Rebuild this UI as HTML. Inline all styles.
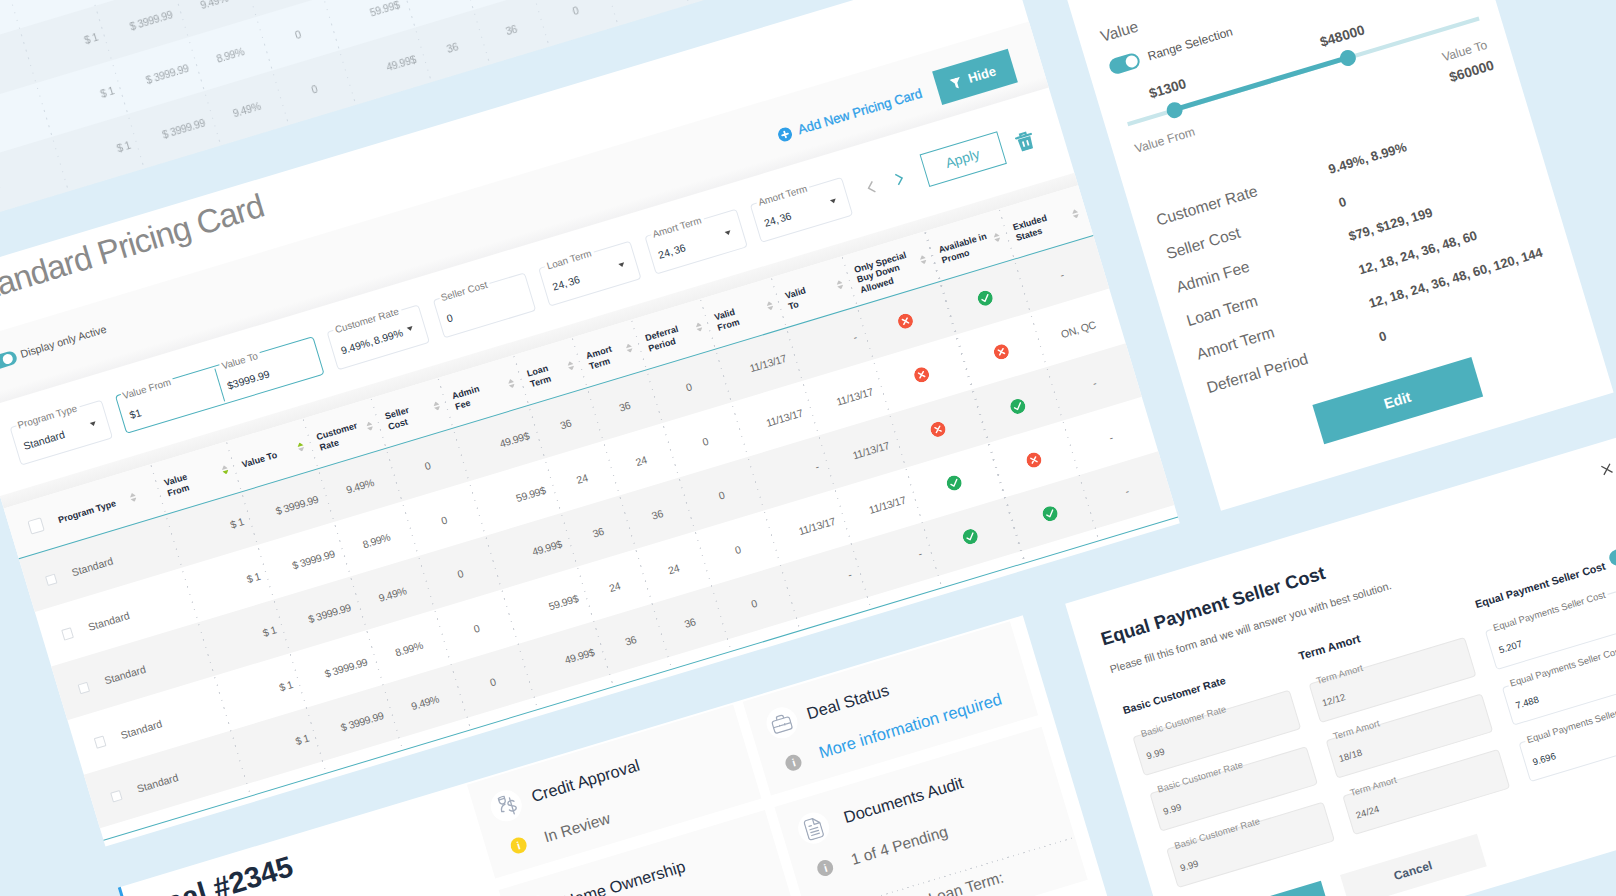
<!DOCTYPE html>
<html lang="en"><head><meta charset="utf-8"><title>Pricing Card</title>
<style>
*{box-sizing:border-box;margin:0;padding:0}
html,body{width:1616px;height:896px;overflow:hidden;background:#ddeef8}
body{position:relative;font-family:"Liberation Sans",sans-serif;color:#666}
#stage{position:absolute;left:0;top:0;width:0;height:0;transform-origin:0 0;transform:rotate(-16.75deg)}
.abs{position:absolute}
.card{position:absolute;background:#fff}
.t{position:absolute;white-space:nowrap;line-height:1}
.fld{position:absolute;height:40.2px;width:96px;border:1px solid #e2e7ee;border-radius:4px;background:#fff}
.fld .lb{position:absolute;left:6px;top:-6px;font-size:9.8px;line-height:11px;color:#7d7d7d;background:#fff;padding:0 3px 0 2px;white-space:nowrap}
.fld .vl{position:absolute;left:7.5px;top:14.8px;font-size:10.5px;line-height:12px;color:#2a3747;white-space:nowrap;word-spacing:-1.2px}
.fld .ar{position:absolute;right:11px;top:18.6px;width:0;height:0;border-left:3.8px solid transparent;border-right:3.8px solid transparent;border-top:4.8px solid #4a4a4a}
.th{position:absolute;font-weight:bold;font-size:9px;line-height:10.5px;color:#1d2c40;display:flex;align-items:center;white-space:nowrap}
.sep{position:absolute;top:8px;width:1.2px;background:repeating-linear-gradient(to bottom,#c6cad1 0,#c6cad1 1.4px,transparent 1.4px,transparent 7.9px)}
.row{position:absolute;left:0;width:1122.4px;height:56.45px}
.row.g{background:#f4f4f4}
.c{position:absolute;top:1.3px;height:56.45px;line-height:56.45px;font-size:10.5px;color:#6a6a6a;white-space:nowrap}
.c.n{letter-spacing:-.3px}
.cb{position:absolute;width:10.5px;height:10.5px;border:1px solid #d9dde2;background:#fff;border-radius:1px}
.ic{position:absolute;width:15px;height:15px;border-radius:50%}
.sort{position:absolute;width:6.4px;height:9.6px}
.pan{position:absolute;background:#fafafa}
.ef{position:absolute;width:163.5px;height:40.5px;border:1px solid #e6e6e6;border-radius:4px;background:#f4f4f4}
.ef.w{background:#fff;border-color:#e3e8ee}
.ef .lb{position:absolute;left:6px;top:-6.5px;font-size:9.4px;line-height:10px;color:#8f8f8f;white-space:nowrap;padding:0 2px}
.ef.w .lb{background:#fff;color:#777}
.ef .vl{position:absolute;left:7px;top:15.5px;font-size:9.5px;line-height:11px;color:#666;white-space:nowrap}
.ef.w .vl{color:#2a3747}
</style></head>
<body>
<div id="stage">
<div class="abs" style="left:-143.1px;top:-79.45px;width:1122.4px;height:282.25px;opacity:.55;background:#fff">
<div class="row g" style="top:0.0px"><div class="cb" style="left:19.6px;top:25px"></div><div class="c" style="left:47px">Standard</div><div class="c n" style="right:896.3px">$ 1</div><div class="c n" style="right:818.5px">$ 3999.99</div><div class="c n" style="left:311.9px;width:71.5px;text-align:center">9.49%</div><div class="c n" style="left:383.4px;width:70.0px;text-align:center">0</div><div class="c n" style="right:598.3px">49.99$</div><div class="c n" style="left:531.7px;width:61.6px;text-align:center">36</div><div class="c n" style="left:593.3px;width:61.8px;text-align:center">36</div><div class="c n" style="left:655.1px;width:72.2px;text-align:center">0</div><div class="c n" style="right:329.8px">11/13/17</div><div class="c n" style="right:256.3px">-</div><svg class="ic" style="left:910.4px;top:20.7px" viewBox="0 0 15 15"><circle cx="7.5" cy="7.5" r="7.5" fill="#f4563d"/><path d="M5 5l5 5M10 5l-5 5" stroke="#fff" stroke-width="1.5" stroke-linecap="round"/></svg><svg class="ic" style="left:992.8px;top:21.7px" viewBox="0 0 15 15"><circle cx="7.5" cy="7.5" r="7.5" fill="#25ad5f"/><path d="M4 7.900l2.400 2.500 4.600-5.600" stroke="#fff" stroke-width="1.4" fill="none" stroke-linecap="round" stroke-linejoin="round"/></svg><div class="c n" style="left:1039.0px;width:83.4px;text-align:center">-</div></div>
<div class="row" style="top:56.45px"><div class="cb" style="left:19.6px;top:25px"></div><div class="c" style="left:47px">Standard</div><div class="c n" style="right:896.3px">$ 1</div><div class="c n" style="right:818.5px">$ 3999.99</div><div class="c n" style="left:311.9px;width:71.5px;text-align:center">8.99%</div><div class="c n" style="left:383.4px;width:70.0px;text-align:center">0</div><div class="c n" style="right:598.3px">59.99$</div><div class="c n" style="left:531.7px;width:61.6px;text-align:center">24</div><div class="c n" style="left:593.3px;width:61.8px;text-align:center">24</div><div class="c n" style="left:655.1px;width:72.2px;text-align:center">0</div><div class="c n" style="right:329.8px">11/13/17</div><div class="c n" style="right:256.3px">11/13/17</div><svg class="ic" style="left:910.4px;top:20.7px" viewBox="0 0 15 15"><circle cx="7.5" cy="7.5" r="7.5" fill="#f4563d"/><path d="M5 5l5 5M10 5l-5 5" stroke="#fff" stroke-width="1.5" stroke-linecap="round"/></svg><svg class="ic" style="left:992.8px;top:21.7px" viewBox="0 0 15 15"><circle cx="7.5" cy="7.5" r="7.5" fill="#f4563d"/><path d="M5 5l5 5M10 5l-5 5" stroke="#fff" stroke-width="1.5" stroke-linecap="round"/></svg><div class="c n" style="left:1039.0px;width:83.4px;text-align:center">ON, QC</div></div>
<div class="row g" style="top:112.9px"><div class="cb" style="left:19.6px;top:25px"></div><div class="c" style="left:47px">Standard</div><div class="c n" style="right:896.3px">$ 1</div><div class="c n" style="right:818.5px">$ 3999.99</div><div class="c n" style="left:311.9px;width:71.5px;text-align:center">9.49%</div><div class="c n" style="left:383.4px;width:70.0px;text-align:center">0</div><div class="c n" style="right:598.3px">49.99$</div><div class="c n" style="left:531.7px;width:61.6px;text-align:center">36</div><div class="c n" style="left:593.3px;width:61.8px;text-align:center">36</div><div class="c n" style="left:655.1px;width:72.2px;text-align:center">0</div><div class="c n" style="right:329.8px">11/13/17</div><div class="c n" style="right:256.3px">-</div><svg class="ic" style="left:910.4px;top:20.7px" viewBox="0 0 15 15"><circle cx="7.5" cy="7.5" r="7.5" fill="#f4563d"/><path d="M5 5l5 5M10 5l-5 5" stroke="#fff" stroke-width="1.5" stroke-linecap="round"/></svg><svg class="ic" style="left:992.8px;top:21.7px" viewBox="0 0 15 15"><circle cx="7.5" cy="7.5" r="7.5" fill="#25ad5f"/><path d="M4 7.900l2.400 2.500 4.600-5.600" stroke="#fff" stroke-width="1.4" fill="none" stroke-linecap="round" stroke-linejoin="round"/></svg><div class="c n" style="left:1039.0px;width:83.4px;text-align:center">-</div></div>
<div class="row" style="top:169.35px"><div class="cb" style="left:19.6px;top:25px"></div><div class="c" style="left:47px">Standard</div><div class="c n" style="right:896.3px">$ 1</div><div class="c n" style="right:818.5px">$ 3999.99</div><div class="c n" style="left:311.9px;width:71.5px;text-align:center">8.99%</div><div class="c n" style="left:383.4px;width:70.0px;text-align:center">0</div><div class="c n" style="right:598.3px">59.99$</div><div class="c n" style="left:531.7px;width:61.6px;text-align:center">24</div><div class="c n" style="left:593.3px;width:61.8px;text-align:center">24</div><div class="c n" style="left:655.1px;width:72.2px;text-align:center">0</div><div class="c n" style="right:329.8px">11/13/17</div><div class="c n" style="right:256.3px">11/13/17</div><svg class="ic" style="left:910.4px;top:20.7px" viewBox="0 0 15 15"><circle cx="7.5" cy="7.5" r="7.5" fill="#f4563d"/><path d="M5 5l5 5M10 5l-5 5" stroke="#fff" stroke-width="1.5" stroke-linecap="round"/></svg><svg class="ic" style="left:992.8px;top:21.7px" viewBox="0 0 15 15"><circle cx="7.5" cy="7.5" r="7.5" fill="#f4563d"/><path d="M5 5l5 5M10 5l-5 5" stroke="#fff" stroke-width="1.5" stroke-linecap="round"/></svg><div class="c n" style="left:1039.0px;width:83.4px;text-align:center">ON, QC</div></div>
<div class="row g" style="top:225.8px"><div class="cb" style="left:19.6px;top:25px"></div><div class="c" style="left:47px">Standard</div><div class="c n" style="right:896.3px">$ 1</div><div class="c n" style="right:818.5px">$ 3999.99</div><div class="c n" style="left:311.9px;width:71.5px;text-align:center">9.49%</div><div class="c n" style="left:383.4px;width:70.0px;text-align:center">0</div><div class="c n" style="right:598.3px">49.99$</div><div class="c n" style="left:531.7px;width:61.6px;text-align:center">36</div><div class="c n" style="left:593.3px;width:61.8px;text-align:center">36</div><div class="c n" style="left:655.1px;width:72.2px;text-align:center">0</div><div class="c n" style="right:329.8px">11/13/17</div><div class="c n" style="right:256.3px">-</div><svg class="ic" style="left:910.4px;top:20.7px" viewBox="0 0 15 15"><circle cx="7.5" cy="7.5" r="7.5" fill="#f4563d"/><path d="M5 5l5 5M10 5l-5 5" stroke="#fff" stroke-width="1.5" stroke-linecap="round"/></svg><svg class="ic" style="left:992.8px;top:21.7px" viewBox="0 0 15 15"><circle cx="7.5" cy="7.5" r="7.5" fill="#25ad5f"/><path d="M4 7.900l2.400 2.500 4.600-5.600" stroke="#fff" stroke-width="1.4" fill="none" stroke-linecap="round" stroke-linejoin="round"/></svg><div class="c n" style="left:1039.0px;width:83.4px;text-align:center">-</div></div>
<div class="sep" style="left:152.8px;top:0px;height:282.25px"></div><div class="sep" style="left:232.4px;top:0px;height:282.25px"></div><div class="sep" style="left:311.9px;top:0px;height:282.25px"></div><div class="sep" style="left:383.4px;top:0px;height:282.25px"></div><div class="sep" style="left:453.4px;top:0px;height:282.25px"></div><div class="sep" style="left:531.7px;top:0px;height:282.25px"></div><div class="sep" style="left:593.3px;top:0px;height:282.25px"></div><div class="sep" style="left:655.1px;top:0px;height:282.25px"></div><div class="sep" style="left:727.3px;top:0px;height:282.25px"></div><div class="sep" style="left:801.3px;top:0px;height:282.25px"></div><div class="sep" style="left:874.8px;top:0px;height:282.25px"></div><div class="sep" style="left:961.5px;top:0px;height:282.25px"></div><div class="sep" style="left:1039.0px;top:0px;height:282.25px"></div>
</div>
<div class="card" style="left:-143.1px;top:246.2px;width:1122.4px;height:594.4px">
<div class="t" style="left:28.6px;top:9.3px;font-size:33px;color:#8a8a8a;letter-spacing:-.85px">Standard Pricing Card</div>
<div class="abs" style="left:0;top:71.30000000000001px;width:1122.4px;height:68.5px;background:linear-gradient(#fafafa 0,#fafafa 83%,#f2f2f3 100%)"></div>
<div class="abs" style="left:28.6px;top:92.8px;width:27px;height:14px;border-radius:7px;background:#4cb0bd"></div>
<div class="abs" style="left:42.1px;top:94.8px;width:10px;height:10px;border-radius:5px;background:#fff"></div>
<div class="t" style="left:60.8px;top:94.3px;font-size:10.7px;color:#555">Display only Active</div>
<svg class="abs" style="left:848.7px;top:101.8px;width:14px;height:14px" viewBox="0 0 14 14"><circle cx="7" cy="7" r="7" fill="#2f9fe8"/><path d="M7 4v6M4 7h6" stroke="#fff" stroke-width="1.8" stroke-linecap="round"/></svg>
<div class="t" style="left:870.1px;top:102.3px;font-size:13.1px;color:#2f9fe8;-webkit-text-stroke:.3px #2f9fe8">Add New Pricing Card</div>
<div class="abs" style="left:1014.8px;top:91.3px;width:79.3px;height:34.5px;background:#4cb0bd"></div>
<svg class="abs" style="left:1029.1px;top:103.8px;width:11px;height:11px" viewBox="0 0 11 11"><path d="M0 0h11L6.8 5.2V11L4.2 9V5.2z" fill="#fff"/></svg>
<div class="t" style="left:1047.9px;top:102.1px;font-size:13px;color:#fff;font-weight:bold">Hide</div>
<div class="fld" style="left:28.6px;top:165.6px;width:96px"><span class="lb">Program Type</span><span class="vl">Standard</span><i class="ar"></i></div>
<div class="fld" style="left:139.1px;top:165.6px;width:206.5px;border-color:#4cb0bd"><span class="lb" style="top:-3.5px;left:4.5px">Value From</span><span class="vl" style="top:16.5px;left:7.5px">$1</span><i class="abs" style="left:101.5px;top:2px;width:1px;height:34px;background:#4cb0bd"></i><span class="lb" style="left:108px;top:-3.5px">Value To</span><span class="vl" style="left:109.5px;top:16px">$3999.99</span></div>
<div class="fld" style="left:360.1px;top:165.6px;width:96px"><span class="lb">Customer Rate</span><span class="vl">9.49%, 8.99%</span><i class="ar"></i></div>
<div class="fld" style="left:470.6px;top:165.6px;width:96px"><span class="lb">Seller Cost</span><span class="vl">0</span></div>
<div class="fld" style="left:581.1px;top:165.6px;width:96px"><span class="lb">Loan Term</span><span class="vl">24, 36</span><i class="ar"></i></div>
<div class="fld" style="left:691.6px;top:165.6px;width:96px"><span class="lb">Amort Term</span><span class="vl">24, 36</span><i class="ar"></i></div>
<div class="fld" style="left:802.1px;top:165.6px;width:96px"><span class="lb">Amort Term</span><span class="vl">24, 36</span><i class="ar"></i></div>
<svg class="abs" style="left:919.1px;top:177.8px;width:8px;height:13px" viewBox="0 0 8 13"><path d="M7 1L1.5 6.5 7 12" stroke="#b5b5b5" stroke-width="1.5" fill="none"/></svg>
<svg class="abs" style="left:949.1px;top:177.8px;width:8px;height:13px" viewBox="0 0 8 13"><path d="M1 1l5.5 5.5L1 12" stroke="#4cb0bd" stroke-width="1.5" fill="none"/></svg>
<div class="abs" style="left:978.6px;top:167.2px;width:81px;height:33.6px;border:1px solid #4cb0bd;color:#4cb0bd;font-size:14px;text-align:center;line-height:31px">Apply</div>
<svg class="abs" style="left:1075.1px;top:175.1px;width:17.6px;height:18.7px" viewBox="0 0 16 17"><path d="M1 4h14M5.5 3.5v-2h5v2" stroke="#4cb0bd" stroke-width="2" fill="none" stroke-linecap="round"/><path d="M2 5.5h12l-.8 11.5H2.8z" fill="#4cb0bd"/><path d="M6 8.5v5M10 8.5v5" stroke="#fff" stroke-width="1.6"/></svg>
<div class="abs" style="left:0;top:229.0px;width:1122.4px;height:12.5px;background:linear-gradient(#f7f7f7,#f1f1f1)"></div>
<div class="abs" style="left:0;top:241.5px;width:1122.4px;height:52.5px;background:#fafafa">
<div class="cb" style="left:19px;top:19.8px;width:14px;height:14px;border-radius:2px"></div>
<div class="th" style="left:49px;top:1.8px;height:52.5px">Program Type</div>
<svg class="sort" style="left:123.9px;top:22.2px" viewBox="0 0 7 11"><path d="M3.5 0L7 4.5H0z" fill="#c4c4c4"/><path d="M0 6.5H7L3.5 11z" fill="#c4c4c4"/></svg>
<div class="th" style="left:161.3px;top:1.8px;height:52.5px">Value<br>From</div>
<svg class="sort" style="left:219.8px;top:22.2px" viewBox="0 0 7 11"><path d="M3.5 0L7 4.5H0z" fill="#c4c4c4"/><path d="M0 6.5H7L3.5 11z" fill="#8fc31f"/></svg>
<div class="th" style="left:240.9px;top:1.8px;height:52.5px">Value To</div>
<svg class="sort" style="left:299.3px;top:22.2px" viewBox="0 0 7 11"><path d="M3.5 0L7 4.5H0z" fill="#8fc31f"/><path d="M0 6.5H7L3.5 11z" fill="#c4c4c4"/></svg>
<div class="th" style="left:320.4px;top:1.8px;height:52.5px">Customer<br>Rate</div>
<svg class="sort" style="left:370.8px;top:22.2px" viewBox="0 0 7 11"><path d="M3.5 0L7 4.5H0z" fill="#c4c4c4"/><path d="M0 6.5H7L3.5 11z" fill="#c4c4c4"/></svg>
<div class="th" style="left:391.9px;top:1.8px;height:52.5px">Seller<br>Cost</div>
<svg class="sort" style="left:440.8px;top:22.2px" viewBox="0 0 7 11"><path d="M3.5 0L7 4.5H0z" fill="#c4c4c4"/><path d="M0 6.5H7L3.5 11z" fill="#c4c4c4"/></svg>
<div class="th" style="left:461.9px;top:1.8px;height:52.5px">Admin<br>Fee</div>
<svg class="sort" style="left:519.1px;top:22.2px" viewBox="0 0 7 11"><path d="M3.5 0L7 4.5H0z" fill="#c4c4c4"/><path d="M0 6.5H7L3.5 11z" fill="#c4c4c4"/></svg>
<div class="th" style="left:540.2px;top:1.8px;height:52.5px">Loan<br>Term</div>
<svg class="sort" style="left:580.7px;top:22.2px" viewBox="0 0 7 11"><path d="M3.5 0L7 4.5H0z" fill="#c4c4c4"/><path d="M0 6.5H7L3.5 11z" fill="#c4c4c4"/></svg>
<div class="th" style="left:601.8px;top:1.8px;height:52.5px">Amort<br>Term</div>
<svg class="sort" style="left:642.5px;top:22.2px" viewBox="0 0 7 11"><path d="M3.5 0L7 4.5H0z" fill="#c4c4c4"/><path d="M0 6.5H7L3.5 11z" fill="#c4c4c4"/></svg>
<div class="th" style="left:663.6px;top:1.8px;height:52.5px">Deferral<br>Period</div>
<svg class="sort" style="left:714.7px;top:22.2px" viewBox="0 0 7 11"><path d="M3.5 0L7 4.5H0z" fill="#c4c4c4"/><path d="M0 6.5H7L3.5 11z" fill="#c4c4c4"/></svg>
<div class="th" style="left:735.8px;top:1.8px;height:52.5px">Valid<br>From</div>
<svg class="sort" style="left:788.7px;top:22.2px" viewBox="0 0 7 11"><path d="M3.5 0L7 4.5H0z" fill="#c4c4c4"/><path d="M0 6.5H7L3.5 11z" fill="#c4c4c4"/></svg>
<div class="th" style="left:809.8px;top:1.8px;height:52.5px">Valid<br>To</div>
<svg class="sort" style="left:862.2px;top:22.2px" viewBox="0 0 7 11"><path d="M3.5 0L7 4.5H0z" fill="#c4c4c4"/><path d="M0 6.5H7L3.5 11z" fill="#c4c4c4"/></svg>
<div class="th" style="left:883.3px;top:1.8px;height:52.5px">Only Special<br>Buy Down<br>Allowed</div>
<svg class="sort" style="left:948.9px;top:22.2px" viewBox="0 0 7 11"><path d="M3.5 0L7 4.5H0z" fill="#c4c4c4"/><path d="M0 6.5H7L3.5 11z" fill="#c4c4c4"/></svg>
<div class="th" style="left:970.0px;top:1.8px;height:52.5px">Available in<br>Promo</div>
<svg class="sort" style="left:1026.4px;top:22.2px" viewBox="0 0 7 11"><path d="M3.5 0L7 4.5H0z" fill="#c4c4c4"/><path d="M0 6.5H7L3.5 11z" fill="#c4c4c4"/></svg>
<div class="th" style="left:1047.5px;top:1.8px;height:52.5px">Exluded<br>States</div>
<svg class="sort" style="left:1108.5px;top:22.2px" viewBox="0 0 7 11"><path d="M3.5 0L7 4.5H0z" fill="#c4c4c4"/><path d="M0 6.5H7L3.5 11z" fill="#c4c4c4"/></svg>
</div>
<div class="row g" style="top:293.8px"><div class="cb" style="left:19.6px;top:25px"></div><div class="c" style="left:47px">Standard</div><div class="c n" style="right:896.3px">$ 1</div><div class="c n" style="right:818.5px">$ 3999.99</div><div class="c n" style="left:311.9px;width:71.5px;text-align:center">9.49%</div><div class="c n" style="left:383.4px;width:70.0px;text-align:center">0</div><div class="c n" style="right:598.3px">49.99$</div><div class="c n" style="left:531.7px;width:61.6px;text-align:center">36</div><div class="c n" style="left:593.3px;width:61.8px;text-align:center">36</div><div class="c n" style="left:655.1px;width:72.2px;text-align:center">0</div><div class="c n" style="right:329.8px">11/13/17</div><div class="c n" style="right:256.3px">-</div><svg class="ic" style="left:910.4px;top:20.7px" viewBox="0 0 15 15"><circle cx="7.5" cy="7.5" r="7.5" fill="#f4563d"/><path d="M5 5l5 5M10 5l-5 5" stroke="#fff" stroke-width="1.5" stroke-linecap="round"/></svg><svg class="ic" style="left:992.8px;top:21.7px" viewBox="0 0 15 15"><circle cx="7.5" cy="7.5" r="7.5" fill="#25ad5f"/><path d="M4 7.900l2.400 2.500 4.600-5.600" stroke="#fff" stroke-width="1.4" fill="none" stroke-linecap="round" stroke-linejoin="round"/></svg><div class="c n" style="left:1039.0px;width:83.4px;text-align:center">-</div></div>
<div class="row" style="top:350.25px"><div class="cb" style="left:19.6px;top:25px"></div><div class="c" style="left:47px">Standard</div><div class="c n" style="right:896.3px">$ 1</div><div class="c n" style="right:818.5px">$ 3999.99</div><div class="c n" style="left:311.9px;width:71.5px;text-align:center">8.99%</div><div class="c n" style="left:383.4px;width:70.0px;text-align:center">0</div><div class="c n" style="right:598.3px">59.99$</div><div class="c n" style="left:531.7px;width:61.6px;text-align:center">24</div><div class="c n" style="left:593.3px;width:61.8px;text-align:center">24</div><div class="c n" style="left:655.1px;width:72.2px;text-align:center">0</div><div class="c n" style="right:329.8px">11/13/17</div><div class="c n" style="right:256.3px">11/13/17</div><svg class="ic" style="left:910.4px;top:20.7px" viewBox="0 0 15 15"><circle cx="7.5" cy="7.5" r="7.5" fill="#f4563d"/><path d="M5 5l5 5M10 5l-5 5" stroke="#fff" stroke-width="1.5" stroke-linecap="round"/></svg><svg class="ic" style="left:992.8px;top:21.7px" viewBox="0 0 15 15"><circle cx="7.5" cy="7.5" r="7.5" fill="#f4563d"/><path d="M5 5l5 5M10 5l-5 5" stroke="#fff" stroke-width="1.5" stroke-linecap="round"/></svg><div class="c n" style="left:1039.0px;width:83.4px;text-align:center">ON, QC</div></div>
<div class="row g" style="top:406.7px"><div class="cb" style="left:19.6px;top:25px"></div><div class="c" style="left:47px">Standard</div><div class="c n" style="right:896.3px">$ 1</div><div class="c n" style="right:818.5px">$ 3999.99</div><div class="c n" style="left:311.9px;width:71.5px;text-align:center">9.49%</div><div class="c n" style="left:383.4px;width:70.0px;text-align:center">0</div><div class="c n" style="right:598.3px">49.99$</div><div class="c n" style="left:531.7px;width:61.6px;text-align:center">36</div><div class="c n" style="left:593.3px;width:61.8px;text-align:center">36</div><div class="c n" style="left:655.1px;width:72.2px;text-align:center">0</div><div class="c n" style="right:329.8px">-</div><div class="c n" style="right:256.3px">11/13/17</div><svg class="ic" style="left:910.4px;top:20.7px" viewBox="0 0 15 15"><circle cx="7.5" cy="7.5" r="7.5" fill="#f4563d"/><path d="M5 5l5 5M10 5l-5 5" stroke="#fff" stroke-width="1.5" stroke-linecap="round"/></svg><svg class="ic" style="left:992.8px;top:21.7px" viewBox="0 0 15 15"><circle cx="7.5" cy="7.5" r="7.5" fill="#25ad5f"/><path d="M4 7.900l2.400 2.500 4.600-5.600" stroke="#fff" stroke-width="1.4" fill="none" stroke-linecap="round" stroke-linejoin="round"/></svg><div class="c n" style="left:1039.0px;width:83.4px;text-align:center">-</div></div>
<div class="row" style="top:463.15px"><div class="cb" style="left:19.6px;top:25px"></div><div class="c" style="left:47px">Standard</div><div class="c n" style="right:896.3px">$ 1</div><div class="c n" style="right:818.5px">$ 3999.99</div><div class="c n" style="left:311.9px;width:71.5px;text-align:center">8.99%</div><div class="c n" style="left:383.4px;width:70.0px;text-align:center">0</div><div class="c n" style="right:598.3px">59.99$</div><div class="c n" style="left:531.7px;width:61.6px;text-align:center">24</div><div class="c n" style="left:593.3px;width:61.8px;text-align:center">24</div><div class="c n" style="left:655.1px;width:72.2px;text-align:center">0</div><div class="c n" style="right:329.8px">11/13/17</div><div class="c n" style="right:256.3px">11/13/17</div><svg class="ic" style="left:910.4px;top:20.7px" viewBox="0 0 15 15"><circle cx="7.5" cy="7.5" r="7.5" fill="#25ad5f"/><path d="M4 7.900l2.400 2.500 4.600-5.600" stroke="#fff" stroke-width="1.4" fill="none" stroke-linecap="round" stroke-linejoin="round"/></svg><svg class="ic" style="left:992.8px;top:21.7px" viewBox="0 0 15 15"><circle cx="7.5" cy="7.5" r="7.5" fill="#f4563d"/><path d="M5 5l5 5M10 5l-5 5" stroke="#fff" stroke-width="1.5" stroke-linecap="round"/></svg><div class="c n" style="left:1039.0px;width:83.4px;text-align:center">-</div></div>
<div class="row g" style="top:519.6px"><div class="cb" style="left:19.6px;top:25px"></div><div class="c" style="left:47px">Standard</div><div class="c n" style="right:896.3px">$ 1</div><div class="c n" style="right:818.5px">$ 3999.99</div><div class="c n" style="left:311.9px;width:71.5px;text-align:center">9.49%</div><div class="c n" style="left:383.4px;width:70.0px;text-align:center">0</div><div class="c n" style="right:598.3px">49.99$</div><div class="c n" style="left:531.7px;width:61.6px;text-align:center">36</div><div class="c n" style="left:593.3px;width:61.8px;text-align:center">36</div><div class="c n" style="left:655.1px;width:72.2px;text-align:center">0</div><div class="c n" style="right:329.8px">-</div><div class="c n" style="right:256.3px">-</div><svg class="ic" style="left:910.4px;top:20.7px" viewBox="0 0 15 15"><circle cx="7.5" cy="7.5" r="7.5" fill="#25ad5f"/><path d="M4 7.900l2.400 2.500 4.600-5.600" stroke="#fff" stroke-width="1.4" fill="none" stroke-linecap="round" stroke-linejoin="round"/></svg><svg class="ic" style="left:992.8px;top:21.7px" viewBox="0 0 15 15"><circle cx="7.5" cy="7.5" r="7.5" fill="#25ad5f"/><path d="M4 7.900l2.400 2.500 4.600-5.600" stroke="#fff" stroke-width="1.4" fill="none" stroke-linecap="round" stroke-linejoin="round"/></svg><div class="c n" style="left:1039.0px;width:83.4px;text-align:center">-</div></div>
<div class="abs" style="left:0;top:293.6px;width:1122.4px;height:1.1px;background:#4cb0bd"></div>
<div class="sep" style="left:152.8px;top:243.3px;height:341.5px"></div><div class="sep" style="left:232.4px;top:243.3px;height:341.5px"></div><div class="sep" style="left:311.9px;top:243.3px;height:341.5px"></div><div class="sep" style="left:383.4px;top:243.3px;height:341.5px"></div><div class="sep" style="left:453.4px;top:243.3px;height:341.5px"></div><div class="sep" style="left:531.7px;top:243.3px;height:341.5px"></div><div class="sep" style="left:593.3px;top:243.3px;height:341.5px"></div><div class="sep" style="left:655.1px;top:243.3px;height:341.5px"></div><div class="sep" style="left:727.3px;top:243.3px;height:341.5px"></div><div class="sep" style="left:801.3px;top:243.3px;height:341.5px"></div><div class="sep" style="left:874.8px;top:243.3px;height:341.5px"></div><div class="sep" style="left:961.5px;top:243.3px;height:341.5px"></div><div class="sep" style="left:1039.0px;top:243.3px;height:341.5px"></div>
<div class="abs" style="left:0;top:587.4px;width:1122.4px;height:1px;background:#4cb0bd"></div>
</div>
<div class="card" style="left:1022.4px;top:200px;width:410px;height:640.5px">
<div class="t" style="left:21.1px;top:144.5px;font-size:15.5px;color:#6b6b6b;">Value</div>
<div class="abs" style="left:20.6px;top:177px;width:31px;height:16px;border-radius:8px;background:#4cb0bd"></div>
<div class="abs" style="left:37.6px;top:179px;width:12px;height:12px;border-radius:6px;background:#fff"></div>
<div class="t" style="left:60.6px;top:179px;font-size:12px;color:#555;">Range Selection</div>
<div class="abs" style="left:21.6px;top:241.6px;width:367px;height:4px;background:#c8e6eb"></div>
<div class="abs" style="left:70.6px;top:241.1px;width:181.5px;height:5px;background:#4cb0bd"></div>
<div class="abs" style="left:62.6px;top:235.6px;width:16px;height:16px;border-radius:8px;background:#4cb0bd"></div>
<div class="abs" style="left:244.1px;top:235.6px;width:16px;height:16px;border-radius:8px;background:#4cb0bd"></div>
<div class="t" style="left:30.1px;top:215.3px;width:80px;text-align:center;font-size:13.7px;font-weight:bold;color:#555">$1300</div>
<div class="t" style="left:212.6px;top:215.3px;width:80px;text-align:center;font-size:13.7px;font-weight:bold;color:#555">$48000</div>
<div class="t" style="left:21.6px;top:263.5px;font-size:12.2px;color:#8a8a8a;">Value From</div>
<div class="t" style="left:288.6px;top:265px;width:100px;text-align:right;font-size:12.2px;color:#8a8a8a">Value To</div>
<div class="t" style="left:289.1px;top:286px;width:100px;text-align:right;font-size:13.7px;font-weight:bold;color:#555">$60000</div>
<div class="t" style="left:21.6px;top:336.9px;font-size:15.6px;color:#6b6b6b;">Customer Rate</div>
<div class="t" style="left:201.1px;top:338.7px;font-size:13px;color:#555;font-weight:bold">9.49%, 8.99%</div>
<div class="t" style="left:21.6px;top:371.9px;font-size:15.6px;color:#6b6b6b;">Seller Cost</div>
<div class="t" style="left:201.1px;top:373.7px;font-size:13px;color:#555;font-weight:bold">0</div>
<div class="t" style="left:21.6px;top:406.9px;font-size:15.6px;color:#6b6b6b;">Admin Fee</div>
<div class="t" style="left:201.1px;top:408.7px;font-size:13px;color:#555;font-weight:bold">$79, $129, 199</div>
<div class="t" style="left:21.6px;top:441.9px;font-size:15.6px;color:#6b6b6b;">Loan Term</div>
<div class="t" style="left:201.1px;top:443.7px;font-size:13px;color:#555;font-weight:bold">12, 18, 24, 36, 48, 60</div>
<div class="t" style="left:21.6px;top:476.9px;font-size:15.6px;color:#6b6b6b;">Amort Term</div>
<div class="t" style="left:201.1px;top:478.7px;font-size:13px;color:#555;font-weight:bold">12, 18, 24, 36, 48, 60, 120, 144</div>
<div class="t" style="left:21.6px;top:511.9px;font-size:15.6px;color:#6b6b6b;">Deferral Period</div>
<div class="t" style="left:201.1px;top:513.7px;font-size:13px;color:#555;font-weight:bold">0</div>
<div class="abs" style="left:117.3px;top:565.5px;width:166px;height:41.5px;background:#4cb0bd;color:#fff;font-weight:bold;font-size:14.5px;text-align:center;line-height:41.5px">Edit</div>
</div>
<div class="card" style="left:-143.1px;top:884.4px;width:945.1px;height:420px">
<div class="abs" style="left:0;top:0;width:3.5px;height:420px;background:#2f9fe8"></div>
<div class="t" style="left:21.7px;top:13.5px;font-size:29.3px;font-weight:bold;color:#1d2c40">Deal #2345</div>
<div class="pan" style="left:364.1px;top:1.2px;width:278px;height:98px"><div class="abs" style="left:16.2px;top:16.5px;width:31px;height:31px;border-radius:50%;background:#fff"></div><svg class="abs" style="left:20.5px;top:21.5px;width:22px;height:22px" viewBox="0 0 22 22" fill="none" stroke="#a0aabb" stroke-width="1.35" stroke-linecap="round" stroke-linejoin="round"><g transform="translate(2.300,-1)"><path d="M2.800 2.300c2-1 4-1.200 6-.8v4.200a3 3 0 0 1-6 .2z"/><path d="M3.200 3.900h5.300"/><path d="M7.500 9.600c-2.600.6-5.200 2.600-5.300 6.200l2.200.5"/></g><path d="M19.200 8.400c-1.300-2.200-6.400-2.200-6.400.9 0 3.200 6.700 2.100 6.700 5.600 0 3.100-5.700 3.100-7.100.6M15.900 3.800v16.700"/></svg><div class="t" style="left:58.7px;top:22.5px;font-size:16.4px;color:#1d2c40">Credit Approval</div><div class="abs" style="left:23.8px;top:65px;width:16px;height:16px;border-radius:50%;background:#fbd321;color:#fff;font-size:11px;font-weight:bold;text-align:center;line-height:16px">i</div><div class="t" style="left:59px;top:65.0px;font-size:15.5px;color:#6b6b6b">In Review</div></div>
<div class="pan" style="left:651.6px;top:1.2px;width:279px;height:98px"><div class="abs" style="left:16.2px;top:16.5px;width:31px;height:31px;border-radius:50%;background:#fff"></div><svg class="abs" style="left:21.5px;top:23px;width:20px;height:18px" viewBox="0 0 20 18" fill="none" stroke="#a0aabb" stroke-width="1.25" stroke-linejoin="round"><rect x="1" y="4.500" width="18" height="12.500" rx="2.500"/><path d="M6.500 4.500V3a1.800 1.800 0 0 1 1.800-1.800h3.400A1.800 1.800 0 0 1 13.500 3v1.500M1 10.800h18M7.300 9.800v2M12.700 9.800v2"/></svg><div class="t" style="left:58.7px;top:22.5px;font-size:16.4px;color:#1d2c40">Deal Status</div><div class="abs" style="left:23.8px;top:65px;width:16px;height:16px;border-radius:50%;background:#b3b3b3;color:#fff;font-size:11px;font-weight:bold;text-align:center;line-height:16px">i</div><div class="t" style="left:59px;top:64.34px;font-size:16.6px;color:#2f9fe8">More information required</div></div>
<div class="pan" style="left:364.1px;top:111.3px;width:278px;height:160px"><div class="abs" style="left:16.2px;top:16.5px;width:31px;height:31px;border-radius:50%;background:#fff"></div><svg class="abs" style="left:23.5px;top:21px;width:17px;height:22px" viewBox="0 0 17 22" fill="none" stroke="#a0aabb" stroke-width="1.25" stroke-linejoin="round" stroke-linecap="round"><path d="M1 3.500A2.500 2.500 0 0 1 3.500 1H10l6 6v11.500a2.500 2.500 0 0 1-2.500 2.500h-10A2.500 2.500 0 0 1 1 18.500zM10 1v6h6M4.500 7.500h2.500M4.500 11h8M4.500 14h8M4.500 17h8"/></svg><div class="t" style="left:58.7px;top:22.5px;font-size:16.4px;color:#1d2c40">Home Ownership</div><div class="abs" style="left:23.8px;top:65px;width:16px;height:16px;border-radius:50%;background:#b3b3b3;color:#fff;font-size:11px;font-weight:bold;text-align:center;line-height:16px">i</div><div class="t" style="left:59px;top:65.0px;font-size:15.5px;color:#6b6b6b">Verified</div></div>
<div class="pan" style="left:651.6px;top:111.3px;width:279px;height:160px"><div class="abs" style="left:16.2px;top:16.5px;width:31px;height:31px;border-radius:50%;background:#fff"></div><svg class="abs" style="left:23.5px;top:21px;width:17px;height:22px" viewBox="0 0 17 22" fill="none" stroke="#a0aabb" stroke-width="1.25" stroke-linejoin="round" stroke-linecap="round"><path d="M1 3.500A2.500 2.500 0 0 1 3.500 1H10l6 6v11.500a2.500 2.500 0 0 1-2.500 2.500h-10A2.500 2.500 0 0 1 1 18.500zM10 1v6h6M4.500 7.500h2.500M4.500 11h8M4.500 14h8M4.500 17h8"/></svg><div class="t" style="left:64.2px;top:22.5px;font-size:16.4px;color:#1d2c40">Documents Audit</div><div class="abs" style="left:23.8px;top:65px;width:16px;height:16px;border-radius:50%;background:#b3b3b3;color:#fff;font-size:11px;font-weight:bold;text-align:center;line-height:16px">i</div><div class="t" style="left:59px;top:65.0px;font-size:15.5px;color:#6b6b6b">1 of 4 Pending</div><div class="abs" style="left:16px;top:115px;width:263px;height:1.3px;background:repeating-linear-gradient(to right,#c9cdd3 0,#c9cdd3 1.4px,transparent 1.4px,transparent 5.5px)"></div><div class="t" style="left:122px;top:125px;font-size:15.5px;color:#6b6b6b">Loan Term:</div></div>
</div>
<div class="card" style="left:845.5px;top:884.5px;width:587px;height:395.1px">
<div class="t" style="left:25.0px;top:36.0px;font-size:18.4px;color:#1d2c40;font-weight:bold">Equal Payment Seller Cost</div>
<div class="t" style="left:24.5px;top:71.5px;font-size:10.8px;color:#6b6b6b;">Please fill this form and we will answer you with best solution.</div>
<div class="t" style="left:25.2px;top:114.0px;font-size:10.6px;color:#1d2c40;font-weight:bold">Basic Customer Rate</div>
<div class="t" style="left:209.0px;top:113.5px;font-size:11.5px;color:#1d2c40;font-weight:bold">Term Amort</div>
<div class="t" style="left:393.0px;top:114.0px;font-size:10.7px;color:#1d2c40;font-weight:bold">Equal Payment Seller Cost</div>
<svg class="abs" style="left:552.5px;top:22.7px;width:11px;height:11px" viewBox="0 0 11 11"><path d="M1 1l9 9M10 1l-9 9" stroke="#4a4a4a" stroke-width="1.3"/></svg>
<div class="abs" style="left:534.5px;top:107.5px;width:31px;height:16px;border-radius:8px;background:#4cb0bd"></div>
<div class="ef" style="left:26.5px;top:147.5px"><span class="lb">Basic Customer Rate</span><span class="vl">9.99</span></div>
<div class="ef" style="left:210.0px;top:147.5px"><span class="lb">Term Amort</span><span class="vl">12/12</span></div>
<div class="ef w" style="left:394.5px;top:147.5px"><span class="lb">Equal Payments Seller Cost</span><span class="vl">5.207</span></div>
<div class="ef" style="left:26.5px;top:206.0px"><span class="lb">Basic Customer Rate</span><span class="vl">9.99</span></div>
<div class="ef" style="left:210.0px;top:206.0px"><span class="lb">Term Amort</span><span class="vl">18/18</span></div>
<div class="ef w" style="left:394.5px;top:206.0px"><span class="lb">Equal Payments Seller Cost</span><span class="vl">7.488</span></div>
<div class="ef" style="left:26.5px;top:264.5px"><span class="lb">Basic Customer Rate</span><span class="vl">9.99</span></div>
<div class="ef" style="left:210.0px;top:264.5px"><span class="lb">Term Amort</span><span class="vl">24/24</span></div>
<div class="ef w" style="left:394.5px;top:264.5px"><span class="lb">Equal Payments Seller Cost</span><span class="vl">9.696</span></div>
<div class="abs" style="left:25.0px;top:339.9px;width:140px;height:34px;background:#4cb0bd;color:#fff;font-weight:bold;font-size:13px;text-align:center;line-height:34px">Submit</div>
<div class="abs" style="left:185.0px;top:339.9px;width:143.2px;height:34px;background:#f4f4f4;color:#4a5a70;font-weight:bold;font-size:12px;text-align:center;line-height:34px">Cancel</div>
</div>
</div>
</body></html>
